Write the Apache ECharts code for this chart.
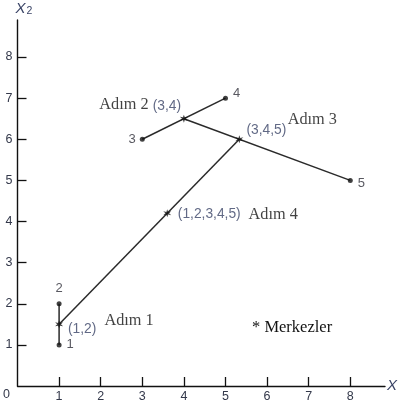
<!DOCTYPE html>
<html><head><meta charset="utf-8">
<script src="https://cdn.jsdelivr.net/npm/echarts@6/dist/echarts.min.js"></script>
<style>html,body{margin:0;padding:0;background:#fff}#c{width:403px;height:406px}</style>
</head><body><div id="c"></div>
<script>
const points = [[1,1],[1,2],[3,6],[5,7],[8,5]];
const pointNames = ['1','2','3','4','5'];
const centers = [[1,1.5],[4,6.5],[5.333,6],[3.6,4.2]];
const centerNames = ['(1,2)','(3,4)','(3,4,5)','(1,2,3,4,5)'];
const stepNames = ['Adım 1','Adım 2','Adım 3','Adım 4'];
const segments = [
  [[1,1],[1,2]],
  [[3,6],[5,7]],
  [[4,6.5],[8,5]],
  [[1,1.5],[5.333,6]]
];
const xTicks = [1,2,3,4,5,6,7,8];
const yTicks = [1,2,3,4,5,6,7,8];

const pointLabelPos = [
  {position:'right', distance:5},
  {position:'top', distance:6},
  {position:'left', distance:4},
  {position:'right', distance:5, offset:[0,-5]},
  {position:'right', distance:5, offset:[0,3]}
];
const centerLabelOff = [[23,5],[-17,-13],[27,-9],[42,1]];
const stepLabelOff = [[70,-4],[-60,-14],[73,-20],[106,1]];

const tickColor = '#33384a';
const chart = echarts.init(document.getElementById('c'));
const series = [];
segments.forEach(s => series.push({
  type:'line', data:s, symbol:'none', silent:true,
  lineStyle:{color:'#2a2a2a', width:1.5}, z:2
}));
series.push({
  type:'scatter', symbol:'circle', symbolSize:5,
  itemStyle:{color:'#111'}, z:3,
  data: points.map((p,i)=>({value:p, label:Object.assign({show:true, formatter:pointNames[i]}, pointLabelPos[i])})),
  label:{color:'#2e2e38', fontFamily:'Liberation Sans, Arial', fontSize:13}
});
const star = 'path://M0,-6L1.2,-2L5.2,-3L2.4,0L5.2,3L1.2,2L0,6L-1.2,2L-5.2,3L-2.4,0L-5.2,-3L-1.2,-2Z';
series.push({
  type:'scatter', symbol:star, symbolSize:8,
  itemStyle:{color:'#111'}, z:4,
  data: centers.map((p,i)=>({value:p, label:{show:true, formatter:centerNames[i], position:'inside', offset:centerLabelOff[i]}})),
  label:{color:'#3a4466', fontFamily:'Liberation Sans, Arial', fontSize:13.8}
});
series.push({
  type:'scatter', symbolSize:0, silent:true, z:5,
  data: centers.map((p,i)=>({value:p, label:{show:true, formatter:stepNames[i], position:'inside', offset:stepLabelOff[i]}})),
  label:{color:'#111', fontFamily:'Liberation Serif, Times New Roman', fontSize:16.3}
});

chart.setOption({
  animation:false,
  grid:{left:17.5, top:20, width:367.5, height:366},
  xAxis:{
    type:'value', min:0, max:8.835,
    name:'X', nameLocation:'end', nameGap:2,
    nameTextStyle:{color:'#3a4466', fontStyle:'italic', fontSize:15, fontFamily:'Liberation Sans, Arial', verticalAlign:'middle'},
    splitLine:{show:false},
    axisLine:{onZero:false, lineStyle:{color:'#111', width:1.4}},
    axisTick:{inside:true, length:9, customValues:xTicks, lineStyle:{color:'#111', width:1.3}},
    axisLabel:{customValues:xTicks, color:tickColor, fontSize:12.5, margin:4, fontFamily:'Liberation Sans, Arial'}
  },
  yAxis:{
    type:'value', min:0, max:8.9,
    name:'{x|X}{s|2}', nameLocation:'end', nameGap:3,
    nameTextStyle:{align:'left', padding:[0,0,0,-2], rich:{
      x:{color:'#3a4466', fontStyle:'italic', fontSize:15, fontFamily:'Liberation Sans, Arial'},
      s:{color:'#3a4466', fontSize:10.5, fontFamily:'Liberation Sans, Arial', padding:[6,0,0,1]}
    }},
    splitLine:{show:false},
    axisLine:{onZero:false, lineStyle:{color:'#111', width:1.4}},
    axisTick:{inside:true, length:9, customValues:yTicks, lineStyle:{color:'#111', width:1.3}},
    axisLabel:{customValues:yTicks, color:tickColor, fontSize:12.5, margin:5, fontFamily:'Liberation Sans, Arial'}
  },
  graphic:[
    {type:'text', left:3, top:388, style:{text:'0', fill:tickColor, font:'12.5px "Liberation Sans", Arial'}},
    {type:'text', left:252, top:319, style:{text:'* Merkezler', fill:'#111', font:'16.5px "Liberation Serif", "Times New Roman"'}}
  ],
  series: series
});
</script></body></html>
